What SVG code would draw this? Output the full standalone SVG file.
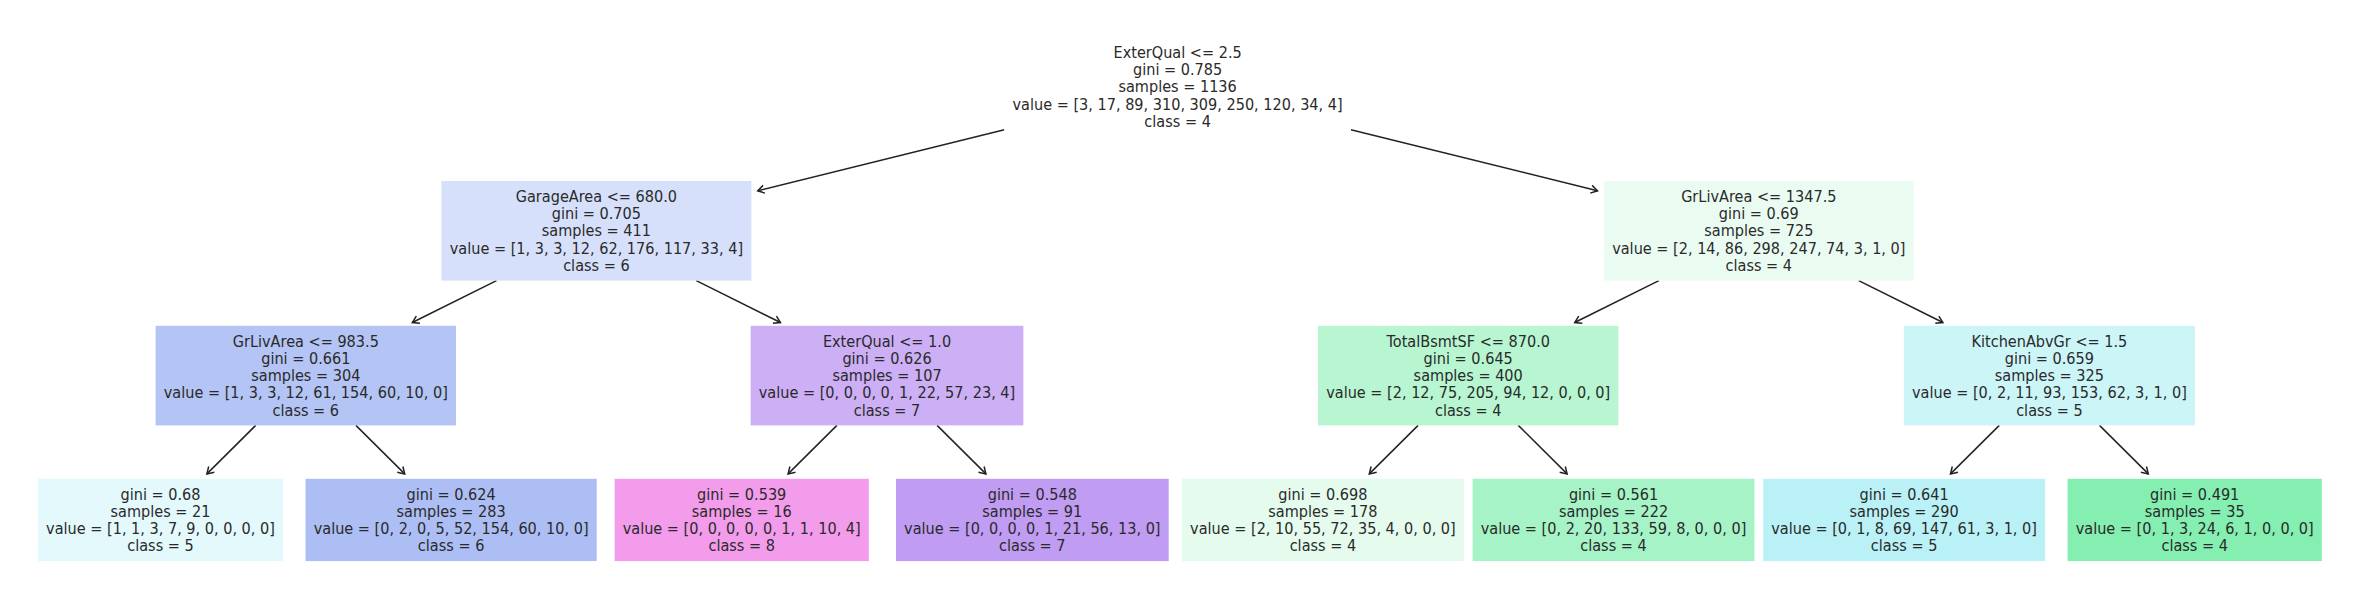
<svg xmlns="http://www.w3.org/2000/svg" width="2355" height="607" viewBox="0 0 2355 607">
<defs>
<style>
.t{font-family:"DejaVu Sans","Liberation Sans",sans-serif;font-size:14.5px;fill:#2a2a2a;text-anchor:middle}
.e{stroke:#222;stroke-width:1.5;fill:none;marker-end:url(#ah)}
</style>
<marker id="ah" viewBox="-9 -6 11 12" refX="0" refY="0" markerWidth="11" markerHeight="12" orient="auto" markerUnits="userSpaceOnUse">
<path d="M-6.5,-4 L0,0 L-6.5,4" fill="none" stroke="#222" stroke-width="1.5"/>
</marker>
</defs>
<rect x="0" y="0" width="2355" height="607" fill="#ffffff"/>
<g id="connectors">
<line class="e" x1="1004.3" y1="129.7" x2="757.7" y2="190.8"/>
<line class="e" x1="1350.9" y1="129.7" x2="1597.5" y2="190.8"/>
<line class="e" x1="496.5" y1="280.6" x2="412.3" y2="322.5"/>
<line class="e" x1="696.3" y1="280.6" x2="780.5" y2="322.5"/>
<line class="e" x1="1658.9" y1="280.6" x2="1574.7" y2="322.5"/>
<line class="e" x1="1858.7" y1="280.6" x2="1942.9" y2="322.5"/>
<line class="e" x1="255.7" y1="425.4" x2="206.9" y2="473.9"/>
<line class="e" x1="355.9" y1="425.4" x2="404.7" y2="473.9"/>
<line class="e" x1="836.9" y1="425.4" x2="788.1" y2="473.9"/>
<line class="e" x1="937.1" y1="425.4" x2="985.9" y2="473.9"/>
<line class="e" x1="1418.1" y1="425.4" x2="1369.3" y2="473.9"/>
<line class="e" x1="1518.3" y1="425.4" x2="1567.1" y2="473.9"/>
<line class="e" x1="1999.3" y1="425.4" x2="1950.5" y2="473.9"/>
<line class="e" x1="2099.5" y1="425.4" x2="2148.3" y2="473.9"/>
</g>
<g id="node0">
<rect x="1004.3" y="36.9" width="346.6" height="99.6" fill="#ffffff"/>
<text class="t" transform="translate(1177.6 57.6) scale(1 1.12)"><tspan x="0" y="0">ExterQual &lt;= 2.5</tspan><tspan x="0" y="15.45">gini = 0.785</tspan><tspan x="0" y="30.9">samples = 1136</tspan><tspan x="0" y="46.35">value = [3, 17, 89, 310, 309, 250, 120, 34, 4]</tspan><tspan x="0" y="61.8">class = 4</tspan></text>
</g>
<g id="node1">
<rect x="441.4" y="181" width="310" height="99.6" fill="#d7e0fa"/>
<text class="t" transform="translate(596.4 201.7) scale(1 1.12)"><tspan x="0" y="0">GarageArea &lt;= 680.0</tspan><tspan x="0" y="15.45">gini = 0.705</tspan><tspan x="0" y="30.9">samples = 411</tspan><tspan x="0" y="46.35">value = [1, 3, 3, 12, 62, 176, 117, 33, 4]</tspan><tspan x="0" y="61.8">class = 6</tspan></text>
</g>
<g id="node8">
<rect x="1603.8" y="181" width="310" height="99.6" fill="#eafcf2"/>
<text class="t" transform="translate(1758.8 201.7) scale(1 1.12)"><tspan x="0" y="0">GrLivArea &lt;= 1347.5</tspan><tspan x="0" y="15.45">gini = 0.69</tspan><tspan x="0" y="30.9">samples = 725</tspan><tspan x="0" y="46.35">value = [2, 14, 86, 298, 247, 74, 3, 1, 0]</tspan><tspan x="0" y="61.8">class = 4</tspan></text>
</g>
<g id="node2">
<rect x="155.6" y="325.8" width="300.4" height="99.6" fill="#b3c4f5"/>
<text class="t" transform="translate(305.8 346.5) scale(1 1.12)"><tspan x="0" y="0">GrLivArea &lt;= 983.5</tspan><tspan x="0" y="15.45">gini = 0.661</tspan><tspan x="0" y="30.9">samples = 304</tspan><tspan x="0" y="46.35">value = [1, 3, 3, 12, 61, 154, 60, 10, 0]</tspan><tspan x="0" y="61.8">class = 6</tspan></text>
</g>
<g id="node5">
<rect x="750.65" y="325.8" width="272.7" height="99.6" fill="#ccaff5"/>
<text class="t" transform="translate(887 346.5) scale(1 1.12)"><tspan x="0" y="0">ExterQual &lt;= 1.0</tspan><tspan x="0" y="15.45">gini = 0.626</tspan><tspan x="0" y="30.9">samples = 107</tspan><tspan x="0" y="46.35">value = [0, 0, 0, 0, 1, 22, 57, 23, 4]</tspan><tspan x="0" y="61.8">class = 7</tspan></text>
</g>
<g id="node9">
<rect x="1318" y="325.8" width="300.4" height="99.6" fill="#b7f6d1"/>
<text class="t" transform="translate(1468.2 346.5) scale(1 1.12)"><tspan x="0" y="0">TotalBsmtSF &lt;= 870.0</tspan><tspan x="0" y="15.45">gini = 0.645</tspan><tspan x="0" y="30.9">samples = 400</tspan><tspan x="0" y="46.35">value = [2, 12, 75, 205, 94, 12, 0, 0, 0]</tspan><tspan x="0" y="61.8">class = 4</tspan></text>
</g>
<g id="node12">
<rect x="1903.8" y="325.8" width="291.2" height="99.6" fill="#ccf5f8"/>
<text class="t" transform="translate(2049.4 346.5) scale(1 1.12)"><tspan x="0" y="0">KitchenAbvGr &lt;= 1.5</tspan><tspan x="0" y="15.45">gini = 0.659</tspan><tspan x="0" y="30.9">samples = 325</tspan><tspan x="0" y="46.35">value = [0, 2, 11, 93, 153, 62, 3, 1, 0]</tspan><tspan x="0" y="61.8">class = 5</tspan></text>
</g>
<g id="node3">
<rect x="38" y="478.8" width="245" height="82.3" fill="#e3f9fb"/>
<text class="t" transform="translate(160.5 499.5) scale(1 1.12)"><tspan x="0" y="0">gini = 0.68</tspan><tspan x="0" y="15.45">samples = 21</tspan><tspan x="0" y="30.9">value = [1, 1, 3, 7, 9, 0, 0, 0, 0]</tspan><tspan x="0" y="46.35">class = 5</tspan></text>
</g>
<g id="node4">
<rect x="305.5" y="478.8" width="291.2" height="82.3" fill="#acbef4"/>
<text class="t" transform="translate(451.1 499.5) scale(1 1.12)"><tspan x="0" y="0">gini = 0.624</tspan><tspan x="0" y="15.45">samples = 283</tspan><tspan x="0" y="30.9">value = [0, 2, 0, 5, 52, 154, 60, 10, 0]</tspan><tspan x="0" y="46.35">class = 6</tspan></text>
</g>
<g id="node6">
<rect x="614.6" y="478.8" width="254.2" height="82.3" fill="#f29ceb"/>
<text class="t" transform="translate(741.7 499.5) scale(1 1.12)"><tspan x="0" y="0">gini = 0.539</tspan><tspan x="0" y="15.45">samples = 16</tspan><tspan x="0" y="30.9">value = [0, 0, 0, 0, 0, 1, 1, 10, 4]</tspan><tspan x="0" y="46.35">class = 8</tspan></text>
</g>
<g id="node7">
<rect x="896" y="478.8" width="272.7" height="82.3" fill="#c09cf2"/>
<text class="t" transform="translate(1032.3 499.5) scale(1 1.12)"><tspan x="0" y="0">gini = 0.548</tspan><tspan x="0" y="15.45">samples = 91</tspan><tspan x="0" y="30.9">value = [0, 0, 0, 0, 1, 21, 56, 13, 0]</tspan><tspan x="0" y="46.35">class = 7</tspan></text>
</g>
<g id="node10">
<rect x="1182" y="478.8" width="281.9" height="82.3" fill="#e4fbee"/>
<text class="t" transform="translate(1322.9 499.5) scale(1 1.12)"><tspan x="0" y="0">gini = 0.698</tspan><tspan x="0" y="15.45">samples = 178</tspan><tspan x="0" y="30.9">value = [2, 10, 55, 72, 35, 4, 0, 0, 0]</tspan><tspan x="0" y="46.35">class = 4</tspan></text>
</g>
<g id="node11">
<rect x="1472.6" y="478.8" width="281.9" height="82.3" fill="#a5f3c6"/>
<text class="t" transform="translate(1613.5 499.5) scale(1 1.12)"><tspan x="0" y="0">gini = 0.561</tspan><tspan x="0" y="15.45">samples = 222</tspan><tspan x="0" y="30.9">value = [0, 2, 20, 133, 59, 8, 0, 0, 0]</tspan><tspan x="0" y="46.35">class = 4</tspan></text>
</g>
<g id="node13">
<rect x="1763.2" y="478.8" width="281.9" height="82.3" fill="#b9f1f6"/>
<text class="t" transform="translate(1904.1 499.5) scale(1 1.12)"><tspan x="0" y="0">gini = 0.641</tspan><tspan x="0" y="15.45">samples = 290</tspan><tspan x="0" y="30.9">value = [0, 1, 8, 69, 147, 61, 3, 1, 0]</tspan><tspan x="0" y="46.35">class = 5</tspan></text>
</g>
<g id="node14">
<rect x="2067.6" y="478.8" width="254.2" height="82.3" fill="#84efb1"/>
<text class="t" transform="translate(2194.7 499.5) scale(1 1.12)"><tspan x="0" y="0">gini = 0.491</tspan><tspan x="0" y="15.45">samples = 35</tspan><tspan x="0" y="30.9">value = [0, 1, 3, 24, 6, 1, 0, 0, 0]</tspan><tspan x="0" y="46.35">class = 4</tspan></text>
</g>
</svg>
